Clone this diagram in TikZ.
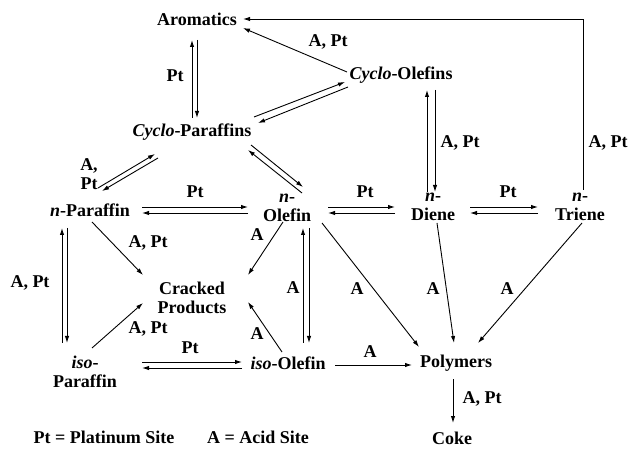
\documentclass[tikz,border=0pt]{standalone}
\usepackage{fontspec}
\setmainfont{Liberation Serif}
\usetikzlibrary{calc}
\usetikzlibrary{arrows.meta}

\begin{document}
\begin{tikzpicture}[x=0.5pt,y=-0.5pt,line width=0.45pt,
        every node/.style={font=\bfseries\fontsize{9}{9.5}\selectfont,inner sep=0pt,align=center},
        >={Latex[length=3.5pt,width=2.2pt]}]
        \useasboundingbox (0,0) rectangle (630,453);

        % species
        \node (arom) at (197,19) {Aromatics};
        \node (cyco) at (401,75) {\textit{Cyclo}-Olefins};
        \node (cycp) at (192,132) {\textit{Cyclo}-Paraffins};
        \node (npar) at (90,210) {\textit{n}-Paraffin};
        \node (nole) at (287,208) {\textit{n}-\\Olefin};
        \node (ndie) at (433,207) {\textit{n}-\\Diene};
        \node (ntri) at (580,207) {\textit{n}-\\Triene};
        \node (crack) at (192,298) {Cracked\\Products};
        \node (ipar) at (85,372) {\textit{iso}-\\Paraffin};
        \node (iole) at (288,363) {\textit{iso}-Olefin};
        \node (poly) at (456,363) {Polymers};
        \node (coke) at (452,438) {Coke};

        % legend
        \node (legpt) at (104,437) {Pt = Platinum Site};
        \node (legA) at (258,437) {A = Acid Site};

        % Aromatics - Cyclo-Paraffins
        \draw[->] ($(cycp)+(0,-14)$) -- ($(arom)+(-5,21)$);
        \draw[->] ($(arom)+(0,21)$) -- ($(cycp)+(5,-14)$);
        \node (l1) at (175,76) {Pt};

        % Cyclo-Olefins -> Aromatics
        \draw[->] ($(cyco)+(-54,-3)$) -- ($(arom)+(46,9)$);
        \node (l2) at (328,42) {A, Pt};

        % n-Triene -> Aromatics
        \draw[->] ($(ntri)+(3,-17)$) |- ($(arom)+(46,0)$);
        \node (l3) at (608,143) {A, Pt};

        % Cyclo-Paraffins - Cyclo-Olefins
        \draw[->] ($(cycp)+(62,-15)$) -- ($(cyco)+(-56,7)$);
        \draw[->] ($(cyco)+(-53,12)$) -- ($(cycp)+(66,-9)$);

        % n-Paraffin - Cyclo-Paraffins
        \draw[->] ($(npar)+(8,-22)$) -- ($(cycp)+(-37,22)$);
        \draw[->] ($(cycp)+(-34,26)$) -- ($(npar)+(12,-19)$);
        \node (l4) at (89,174) {A,\\Pt};

        % Cyclo-Paraffins - n-Olefin
        \draw[->] ($(cycp)+(59,13)$) -- ($(nole)+(16,-21)$);
        \draw[->] ($(nole)+(15,-15)$) -- ($(cycp)+(56,18)$);

        % n-Paraffin - n-Olefin
        \draw[->] ($(npar)+(52,-3)$) -- ($(nole)+(-39,-1)$);
        \draw[->] ($(nole)+(-39,5)$) -- ($(npar)+(52,3)$);
        \node (l5) at (195,192) {Pt};

        % n-Olefin - n-Diene
        \draw[->] ($(nole)+(41,-1)$) -- ($(ndie)+(-38,0)$);
        \draw[->] ($(ndie)+(-38,6)$) -- ($(nole)+(41,5)$);
        \node (l6) at (365,192) {Pt};

        % n-Diene - n-Triene
        \draw[->] ($(ndie)+(37,0)$) -- ($(ntri)+(-42,0)$);
        \draw[->] ($(ntri)+(-42,6)$) -- ($(ndie)+(37,6)$);
        \node (l7) at (508,192) {Pt};

        % n-Diene - Cyclo-Olefins
        \draw[->] ($(ndie)+(-6,-15)$) -- ($(cyco)+(26,15)$);
        \draw[->] ($(cyco)+(34,15)$) -- ($(ndie)+(2,-15)$);
        \node (l8) at (460,143) {A, Pt};

        % n-Paraffin - iso-Paraffin
        \draw[->] ($(ipar)+(-23,-29)$) -- ($(npar)+(-28,18)$);
        \draw[->] ($(npar)+(-23,18)$) -- ($(ipar)+(-18,-29)$);
        \node (l9) at (30,283) {A, Pt};

        % cracking
        \draw[->] ($(npar)+(2,12)$) -- ($(crack)+(-49,-23)$);
        \node (l10) at (148,243) {A, Pt};
        \draw[->] ($(ipar)+(7,-24)$) -- ($(crack)+(-49,5)$);
        \node (l11) at (148,329) {A, Pt};
        \draw[->] ($(nole)+(-4,14)$) -- ($(crack)+(56,-23)$);
        \node (l12) at (257,235) {A};
        \draw[->] ($(iole)+(-6,-11)$) -- ($(crack)+(56,4)$);
        \node (l13) at (257,334) {A};

        % n-Olefin - iso-Olefin
        \draw[->] ($(iole)+(15,-20)$) -- ($(nole)+(16,20)$);
        \draw[->] ($(nole)+(22,20)$) -- ($(iole)+(21,-20)$);
        \node (l14) at (293,288) {A};

        % iso-Paraffin - iso-Olefin
        \draw[->] ($(ipar)+(57,-10)$) -- ($(iole)+(-46,-1)$);
        \draw[->] ($(iole)+(-46,5)$) -- ($(ipar)+(57,-4)$);
        \node (l15) at (190,348) {Pt};

        % polymerisation
        \draw[->] ($(iole)+(47,2)$) -- ($(poly)+(-44,2)$);
        \node (l16) at (370,352) {A};
        \draw[->] ($(nole)+(35,15)$) -- ($(poly)+(-37,-16)$);
        \node (l17) at (357,289) {A};
        \draw[->] ($(ndie)+(4,16)$) -- ($(poly)+(-2,-20)$);
        \node (l18) at (433,289) {A};
        \draw[->] ($(ntri)+(2,16)$) -- ($(poly)+(22,-20)$);
        \node (l19) at (507,289) {A};

        % Polymers -> Coke
        \draw[->] ($(poly)+(-3,16)$) -- ($(coke)+(1,-15)$);
        \node (l20) at (482,399) {A, Pt};
\end{tikzpicture}
\end{document}
